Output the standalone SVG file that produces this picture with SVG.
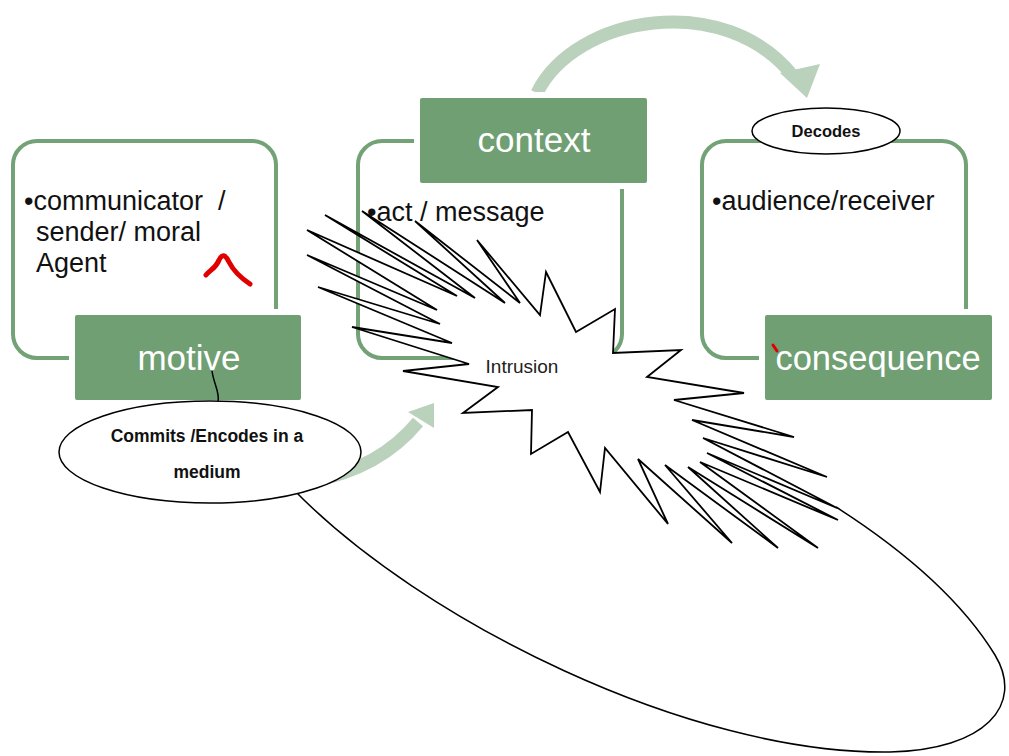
<svg xmlns="http://www.w3.org/2000/svg" width="1009" height="756" viewBox="0 0 1009 756">
<style>
.outline{fill:none;stroke:#72a276;stroke-width:4}
.label{fill:#6f9f72;stroke:#ffffff;stroke-width:6}
.lt{font-family:"Liberation Sans",Arial,sans-serif;fill:#ffffff;text-anchor:middle}
.bt{font-family:"Liberation Sans",Arial,sans-serif;fill:#111111;font-size:27px;white-space:pre}
.ell{fill:#ffffff;stroke:#000000;stroke-width:1.5}
.et{font-family:"Liberation Sans",Arial,sans-serif;font-weight:bold;fill:#111111;text-anchor:middle}
.flow{fill:none;stroke:#bad1bc;stroke-width:13}
.head{fill:#bad1bc}
.ink{fill:none;stroke:#000000;stroke-width:1.5}
.red{fill:none;stroke:#e00000;stroke-linecap:round;stroke-linejoin:round}
</style>
<rect width="1009" height="756" fill="#ffffff"/>

<g id="connectors">
  <path class="ink" d="M293,489 C 420,620 690,755 890,752 C 985,750 1025,705 995,655 C 960,598 900,548 836,507"/>
  <path class="flow" d="M537,93 C 575,15 725,-10 793,76"/>
  <polygon class="head" points="780,73 820,64 807,98"/>
  <path class="flow" d="M312,481 C 360,472 395,450 418,422"/>
  <polygon class="head" points="408,412 434,403 434,428"/>
</g>

<g id="sender">
  <rect class="outline" x="13" y="141" width="263" height="217" rx="24"/>
  <text class="bt" x="24" y="210">•communicator  /</text>
  <text class="bt" x="36" y="241">sender/ moral</text>
  <text class="bt" x="36" y="272">Agent</text>
  <path class="red" stroke-width="5" d="M206,275 C 210,270 216,268 219,260 C 222,254 225,254 229,262 C 233,270 238,276 250,284"/>
</g>

<g id="motive">
  <rect class="label" x="72" y="312" width="232" height="91" rx="5"/>
  <text class="lt" x="189" y="370" font-size="35">motive</text>
  <path class="ink" d="M212,371 C 214,385 220,392 218,402"/>
</g>

<g id="message">
  <rect class="outline" x="358" y="141" width="264" height="217" rx="24"/>
  <text class="bt" x="367" y="221">•act / message</text>
</g>

<g id="context">
  <rect class="label" x="417" y="95" width="233" height="91" rx="5"/>
  <text class="lt" x="534" y="152" font-size="35">context</text>
</g>

<g id="receiver">
  <rect class="outline" x="702" y="141" width="264" height="217" rx="24"/>
  <text class="bt" x="712" y="210">•audience/receiver</text>
</g>

<g id="consequence">
  <rect class="label" x="762" y="312" width="233" height="91" rx="5"/>
  <text class="lt" x="878" y="370" font-size="34.5">consequence</text>
  <path class="red" stroke-width="3" d="M773,345 L777,351"/>
</g>

<g id="decodes">
  <ellipse class="ell" cx="826" cy="131" rx="74" ry="23"/>
  <text class="et" x="826" y="137" font-size="16.5">Decodes</text>
</g>

<g id="intrusion">
  <polygon fill="#ffffff" stroke="#000000" stroke-width="1.8" stroke-linejoin="miter" points="546,272 576,332 615,309 613,353 681,350 647,377 744,393 674,400 794,437 692,420 827,477 703,438 837,508 707,453 838,520 700,462 818,548 688,467 778,548 665,465 732,543 638,459 668,524 605,448 600,492 568,432 531,454 532,410 463,413 498,387 403,371 469,364 352,327 452,343 318,287 440,324 307,255 437,310 307,230 457,296 325,215 475,298 362,211 505,303 415,221 520,303 477,240 540,315"/>
  <text x="522" y="373" font-family="Liberation Sans,Arial,sans-serif" font-size="19" fill="#222222" text-anchor="middle">Intrusion</text>
</g>

<g id="encodes">
  <ellipse class="ell" cx="210" cy="452" rx="151" ry="51"/>
  <text class="et" x="207" y="442" font-size="17.5">Commits /Encodes in a</text>
  <text class="et" x="207" y="478" font-size="17.5">medium</text>
</g>
</svg>
